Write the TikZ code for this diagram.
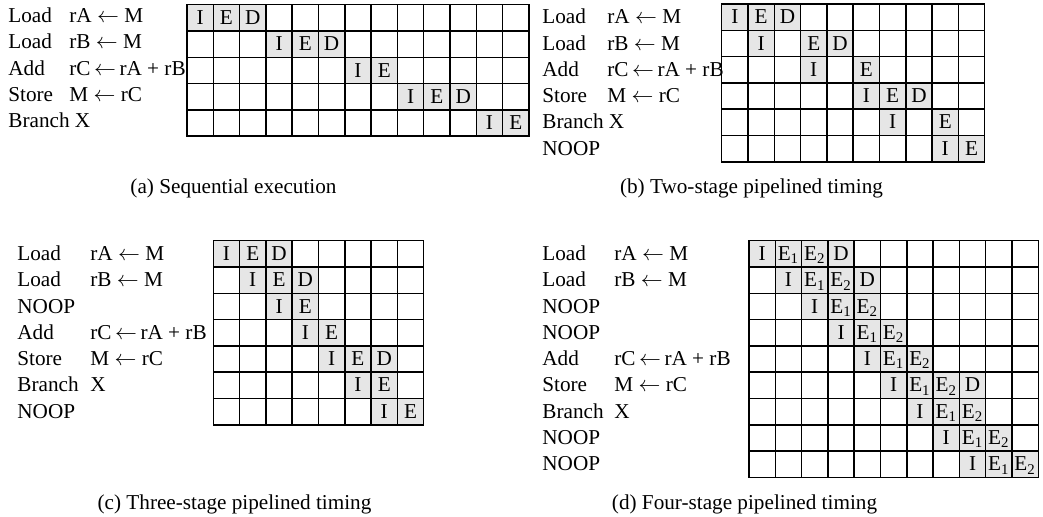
\documentclass[tikz,border=0pt]{standalone}
\usepackage{fontspec}
\setmainfont{Liberation Serif}
\usepackage{tikz}
\definecolor{StageGray}{RGB}{230,230,230}
\newcommand{\cw}{26.3}

\begin{document}
\begin{tikzpicture}[
    x=0.5pt, y=-0.5pt,
    font=\fontsize{10.6}{12.7}\selectfont,
    stage/.style={rectangle, fill=StageGray, minimum width=13.15pt, minimum height=13.15pt, inner sep=0pt, text height=0.66em, text depth=0pt},
    gridline/.style={line width=0.75pt, black, line cap=rect},
    instr/.style={anchor=west, inner sep=0pt, text height=0.66em, text depth=0pt},
    caption/.style={inner sep=0pt}
]
\useasboundingbox (0,0) rectangle (1043,517);

% (a) sequential execution
\begin{scope}[shift={(187,4.7)}]
  \foreach \r/\c/\t in {0/0/I,0/1/E,0/2/D,1/3/I,1/4/E,1/5/D,2/6/I,2/7/E,3/8/I,3/9/E,3/10/D,4/11/I,4/12/E}
    \node[stage] (a-\r-\c) at ({(\c+0.5)*\cw},{(\r+0.5)*\cw}) {\t};
  \foreach \i in {0,...,13}
    \draw[gridline] ({\i*\cw},0) -- ({\i*\cw},{5*\cw});
  \foreach \j in {0,...,5}
    \draw[gridline] (0,{\j*\cw}) -- ({13*\cw},{\j*\cw});
\end{scope}
\foreach \r/\op/\arg in {0/Load/{rA $\leftarrow$ M},1/Load/{rB $\leftarrow$ M},2/Add/{rC\,$\leftarrow$\,rA + rB},3/Store/{M $\leftarrow$ rC},4/{Branch X}/{}}
{
  \node[instr] (a-op-\r) at (8,{4.7+(\r+0.5)*\cw-2}) {\op};
  \node[instr] (a-arg-\r) at (69,{4.7+(\r+0.5)*\cw-2}) {\arg};
}
\node[caption] (cap-a) at (233.5,188) {(a) Sequential execution};

% (b) two-stage pipeline
\begin{scope}[shift={(721.7,4)}]
  \foreach \r/\c/\t in {0/0/I,0/1/E,0/2/D,1/1/I,1/3/E,1/4/D,2/3/I,2/5/E,3/5/I,3/6/E,3/7/D,4/6/I,4/8/E,5/8/I,5/9/E}
    \node[stage] (b-\r-\c) at ({(\c+0.5)*\cw},{(\r+0.5)*\cw}) {\t};
  \foreach \i in {0,...,10}
    \draw[gridline] ({\i*\cw},0) -- ({\i*\cw},{6*\cw});
  \foreach \j in {0,...,6}
    \draw[gridline] (0,{\j*\cw}) -- ({10*\cw},{\j*\cw});
\end{scope}
\foreach \r/\op/\arg in {0/Load/{rA $\leftarrow$ M},1/Load/{rB $\leftarrow$ M},2/Add/{rC\,$\leftarrow$\,rA + rB},3/Store/{M $\leftarrow$ rC},4/{Branch X}/{},5/NOOP/{}}
{
  \node[instr] (b-op-\r) at (542,{4+(\r+0.5)*\cw}) {\op};
  \node[instr] (b-arg-\r) at (607,{4+(\r+0.5)*\cw}) {\arg};
}
\node[caption] (cap-b) at (751.5,188) {(b) Two-stage pipelined timing};

% (c) three-stage pipeline
\begin{scope}[shift={(213.3,240.7)}]
  \foreach \r/\c/\t in {0/0/I,0/1/E,0/2/D,1/1/I,1/2/E,1/3/D,2/2/I,2/3/E,3/3/I,3/4/E,4/4/I,4/5/E,4/6/D,5/5/I,5/6/E,6/6/I,6/7/E}
    \node[stage] (c-\r-\c) at ({(\c+0.5)*\cw},{(\r+0.5)*\cw}) {\t};
  \foreach \i in {0,...,8}
    \draw[gridline] ({\i*\cw},0) -- ({\i*\cw},{7*\cw});
  \foreach \j in {0,...,7}
    \draw[gridline] (0,{\j*\cw}) -- ({8*\cw},{\j*\cw});
\end{scope}
\foreach \r/\op/\arg in {0/Load/{rA $\leftarrow$ M},1/Load/{rB $\leftarrow$ M},2/NOOP/{},3/Add/{rC\,$\leftarrow$\,rA + rB},4/Store/{M $\leftarrow$ rC},5/Branch/X,6/NOOP/{}}
{
  \node[instr] (c-op-\r) at (17,{240.7+(\r+0.5)*\cw}) {\op};
  \node[instr] (c-arg-\r) at (90,{240.7+(\r+0.5)*\cw}) {\arg};
}
\node[caption] (cap-c) at (234.5,504) {(c) Three-stage pipelined timing};

% (d) four-stage pipeline
\begin{scope}[shift={(749,240.7)}]
  \foreach \r/\c/\t in {0/0/I,0/1/{E\textsubscript{1}},0/2/{E\textsubscript{2}},0/3/D,
                        1/1/I,1/2/{E\textsubscript{1}},1/3/{E\textsubscript{2}},1/4/D,
                        2/2/I,2/3/{E\textsubscript{1}},2/4/{E\textsubscript{2}},
                        3/3/I,3/4/{E\textsubscript{1}},3/5/{E\textsubscript{2}},
                        4/4/I,4/5/{E\textsubscript{1}},4/6/{E\textsubscript{2}},
                        5/5/I,5/6/{E\textsubscript{1}},5/7/{E\textsubscript{2}},5/8/D,
                        6/6/I,6/7/{E\textsubscript{1}},6/8/{E\textsubscript{2}},
                        7/7/I,7/8/{E\textsubscript{1}},7/9/{E\textsubscript{2}},
                        8/8/I,8/9/{E\textsubscript{1}},8/10/{E\textsubscript{2}}}
    \node[stage] (d-\r-\c) at ({(\c+0.5)*\cw},{(\r+0.5)*\cw}) {\t};
  \foreach \i in {0,...,11}
    \draw[gridline] ({\i*\cw},0) -- ({\i*\cw},{9*\cw});
  \foreach \j in {0,...,9}
    \draw[gridline] (0,{\j*\cw}) -- ({11*\cw},{\j*\cw});
\end{scope}
\foreach \r/\op/\arg in {0/Load/{rA $\leftarrow$ M},1/Load/{rB $\leftarrow$ M},2/NOOP/{},3/NOOP/{},4/Add/{rC\,$\leftarrow$\,rA + rB},5/Store/{M $\leftarrow$ rC},6/Branch/X,7/NOOP/{},8/NOOP/{}}
{
  \node[instr] (d-op-\r) at (542,{240.7+(\r+0.5)*\cw}) {\op};
  \node[instr] (d-arg-\r) at (614,{240.7+(\r+0.5)*\cw}) {\arg};
}
\node[caption] (cap-d) at (744.5,504) {(d) Four-stage pipelined timing};
\end{tikzpicture}
\end{document}
